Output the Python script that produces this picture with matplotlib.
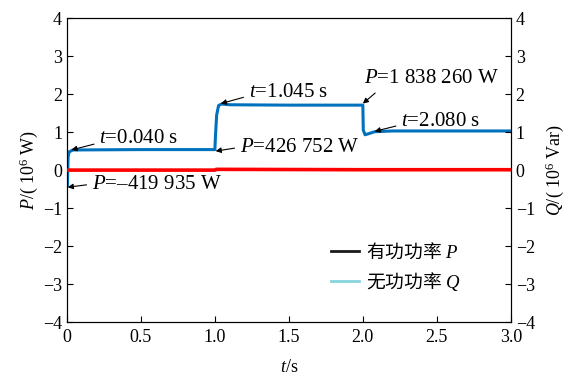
import matplotlib
matplotlib.use("Agg")
import matplotlib.pyplot as plt
from matplotlib.lines import Line2D

plt.rcParams['font.family'] = ['Liberation Serif', 'Noto Sans CJK SC']
plt.rcParams['mathtext.fontset'] = 'custom'
plt.rcParams['mathtext.rm'] = 'Liberation Serif'
plt.rcParams['mathtext.it'] = 'Liberation Serif:italic'

# key points (time in s, power in 1e6 W / Var)
t_p = [0.0, 0.003, 0.008, 0.015, 0.04, 0.5, 1.0, 1.004, 1.012, 1.025, 1.045, 1.1, 1.5, 2.0, 2.003, 2.015, 2.04, 2.08, 2.2, 3.0]
p_val = [0.0, -0.42, 0.35, 0.48, 0.53, 0.54, 0.54, 0.9, 1.45, 1.70, 1.74, 1.72, 1.71, 1.71, 1.05, 0.93, 0.96, 1.01, 1.03, 1.03]
t_q = [0.0, 1.0, 1.01, 2.0, 3.0]
q_val = [0.0, 0.0, 0.02, 0.01, 0.01]

x_ticks = [0, 0.5, 1.0, 1.5, 2.0, 2.5, 3.0]
x_labels = ['0', '0.5', '1.0', '1.5', '2.0', '2.5', '3.0']
y_ticks = [-4, -3, -2, -1, 0, 1, 2, 3, 4]

# annotations: text, arrow tip (t, value), text position (t, value), arrow start on text box
notes = [
    ('$t$=0.040 s', (0.03, 0.53), (0.22, 0.82), (0, 0.3)),
    ('$P$=\u2013419 935 W', (0.005, -0.45), (0.17, -0.37), (0, 0.5)),
    ('$t$=1.045 s', (1.04, 1.75), (1.23, 2.03), (0, 0.35)),
    ('$P$=426 752 W', (1.005, 0.50), (1.17, 0.60), (0, 0.5)),
    ('$P$=1 838 260 W', (2.0, 1.75), (2.01, 2.40), (0.12, 0.0)),
    ('$t$=2.080 s', (2.08, 1.02), (2.26, 1.27), (0, 0.35)),
]

fig = plt.figure(figsize=(5.72, 3.78), dpi=100)
ax = fig.add_axes([0.117, 0.148, 0.776, 0.804])
ax2 = ax.twinx()

ax.plot(t_p, p_val, color='#0072BD', lw=2.2, zorder=3)
ax2.plot(t_q, q_val, color='#FF0000', lw=2.6, zorder=3)

for a in (ax, ax2):
    a.set_xlim(0, 3)
    a.set_ylim(-4, 4)
    a.set_yticks(y_ticks)
    a.set_yticklabels([str(v).replace('-', '\u2212') for v in y_ticks])
    a.tick_params(direction='in', labelsize=13, length=4, width=0.8)
ax.set_xticks(x_ticks)
ax.set_xticklabels(x_labels)
ax.tick_params(axis='x', pad=5)

ax.set_xlabel('$t$/s', fontsize=13, labelpad=9)
ax.set_ylabel('$P$/( 10$^6$ W)', fontsize=13, labelpad=2)
ax2.set_ylabel('$Q$/( 10$^6$ Var)', fontsize=13, labelpad=6)

for txt, tip, pos, rp in notes:
    ax.annotate(txt, xy=tip, xytext=pos, fontsize=15, va='center', ha='left',
                arrowprops=dict(arrowstyle='-|>', color='k', lw=0.8, mutation_scale=8,
                                shrinkA=2, shrinkB=0, relpos=rp))

handles = [Line2D([], [], color='#1a1a1a', lw=2.0),
           Line2D([], [], color='#86d4de', lw=2.0)]
ax.legend(handles, ['有功功率 $P$', '无功功率 $Q$'], loc='lower right',
          bbox_to_anchor=(0.925, 0.04), frameon=False,
          prop=dict(family='Noto Sans CJK SC', size=13.5),
          handlelength=1.5, handletextpad=0.4, labelspacing=0.4)

fig.savefig('out.png', dpi=100)
